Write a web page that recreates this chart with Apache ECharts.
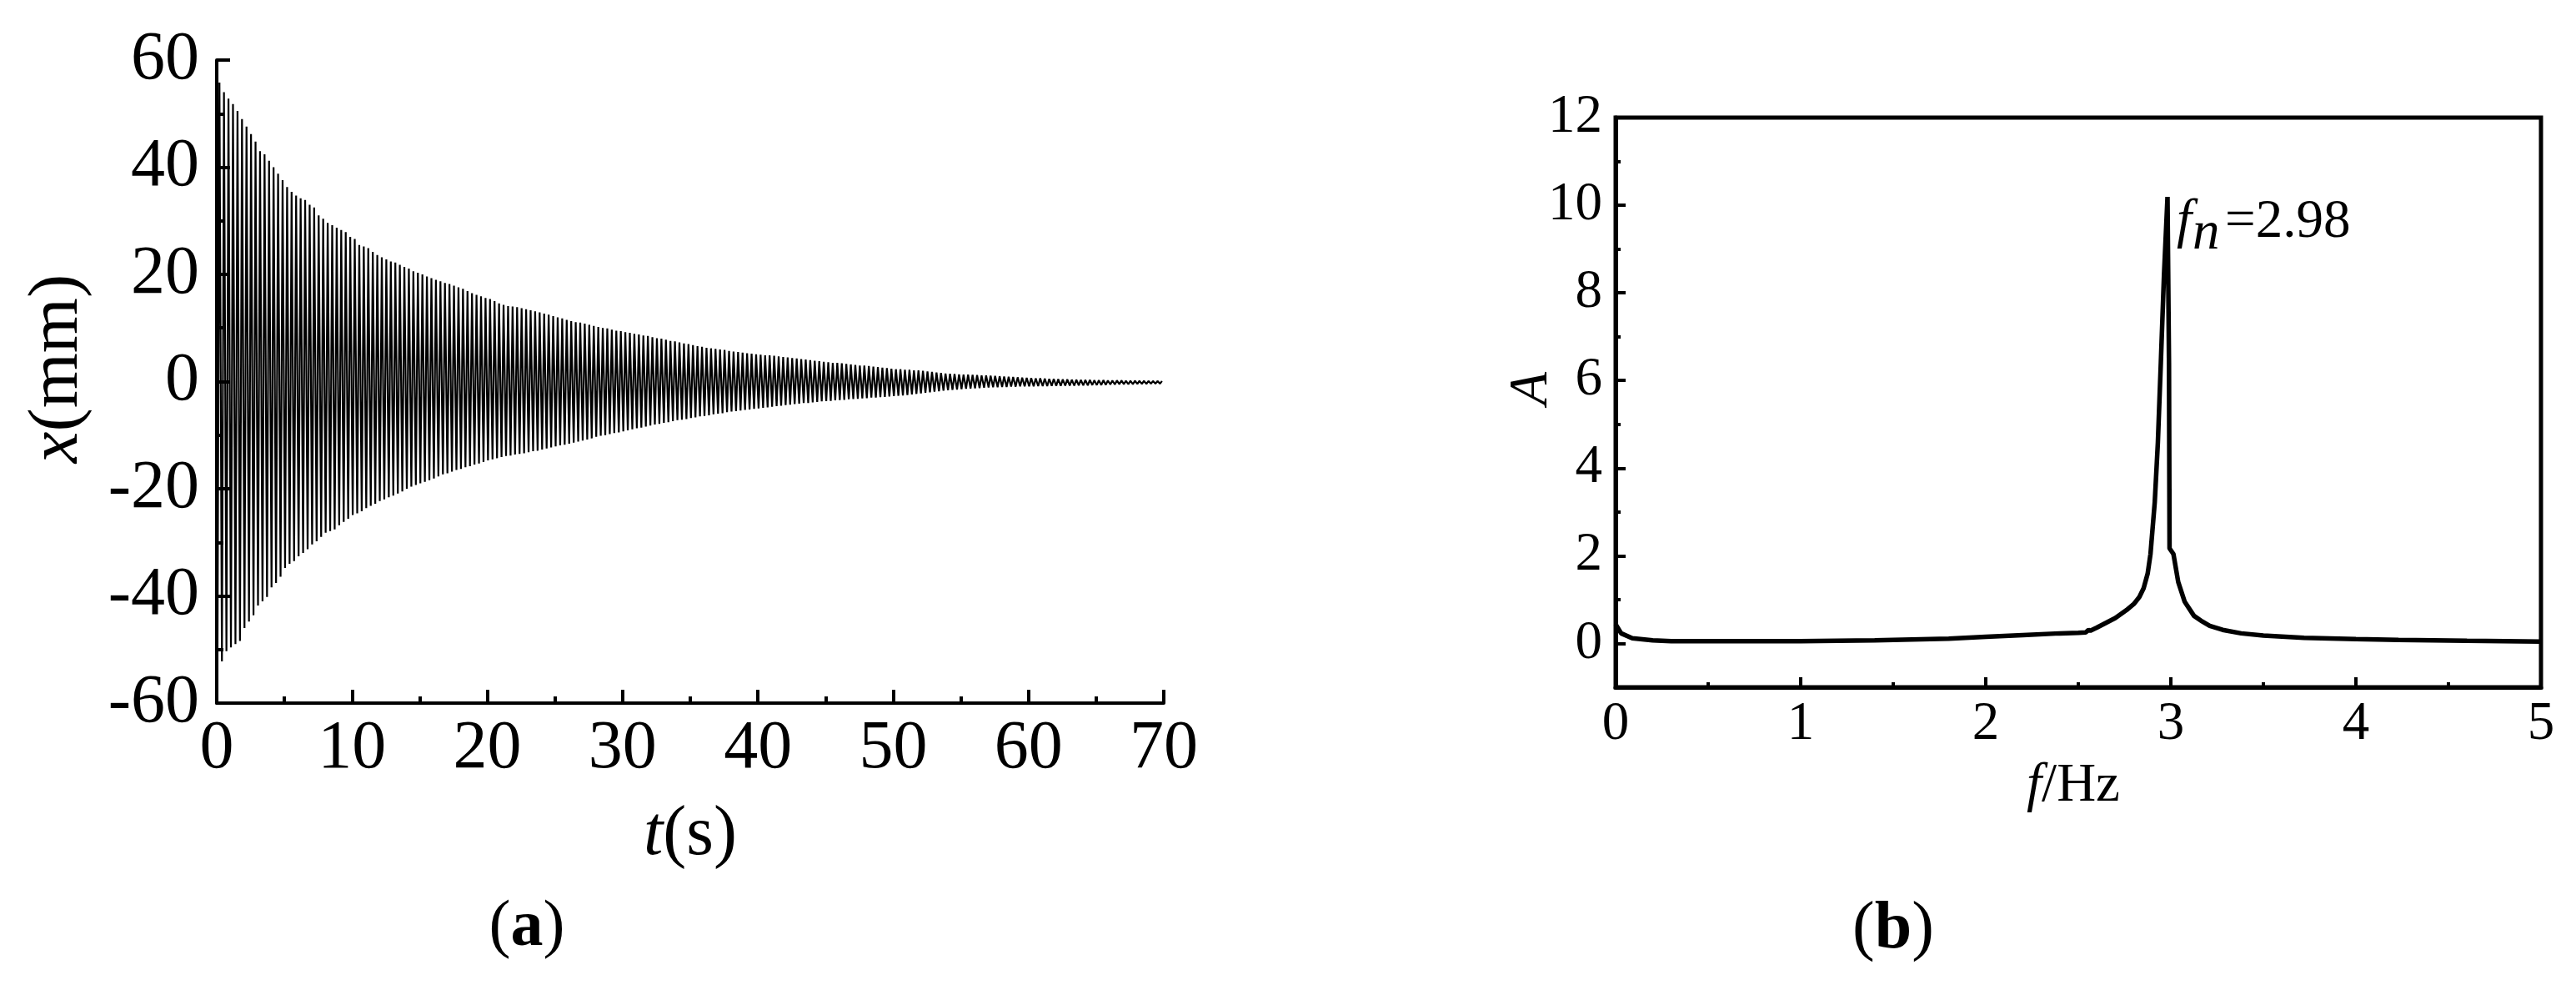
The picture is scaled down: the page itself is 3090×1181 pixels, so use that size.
<!DOCTYPE html>
<html>
<head>
<meta charset="utf-8">
<script src="https://cdn.jsdelivr.net/npm/echarts@6/dist/echarts.min.js"></script>
<style>
  html, body { margin: 0; padding: 0; background: #fff; }
  #chart { width: 3090px; height: 1181px; }
</style>
</head>
<body>
<div id="chart"></div>
<script>
const FONT = '"Liberation Serif", "Times New Roman", serif';

// (a) free decay: positive and negative peak of every cycle (mm)
const upperPeaks = [
  55.8, 54.0, 52.8, 51.8, 50.5, 49.0, 47.6, 46.2, 44.8, 43.0, 42.4, 41.2, 40.0, 38.8, 37.6,
  36.3, 35.4, 34.7, 34.2, 33.9, 33.0, 32.5, 31.0, 30.4, 29.6, 29.2, 28.7, 28.3, 27.9, 27.0,
  26.6, 25.5, 25.2, 24.9, 24.2, 23.6, 23.2, 22.8, 22.4, 22.2, 21.8, 21.4, 21.1, 20.6, 20.3,
  20.0, 19.6, 19.3, 19.0, 18.7, 18.4, 18.2, 17.9, 17.6, 17.3, 16.9, 16.5, 16.2, 15.9, 15.6,
  15.4, 15.0, 14.6, 14.3, 14.1, 14.0, 13.9, 13.7, 13.5, 13.3, 13.1, 12.9, 12.7, 12.5, 12.2,
  12.0, 11.8, 11.5, 11.3, 11.1, 11.0, 10.8, 10.6, 10.4, 10.2, 10.0, 9.9, 9.7, 9.5, 9.4,
  9.2, 9.1, 8.9, 8.8, 8.6, 8.5, 8.3, 8.1, 8.0, 7.8, 7.6, 7.5, 7.3, 7.1, 7.0,
  6.8, 6.6, 6.5, 6.3, 6.2, 6.1, 6.0, 5.9, 5.7, 5.6, 5.5, 5.4, 5.3, 5.2, 5.1,
  5.0, 4.9, 4.9, 4.8, 4.7, 4.6, 4.5, 4.4, 4.3, 4.2, 4.1, 4.0, 3.9, 3.8, 3.7,
  3.6, 3.5, 3.5, 3.4, 3.3, 3.2, 3.1, 3.0, 3.0, 2.9, 2.8, 2.7, 2.6, 2.5, 2.4,
  2.3, 2.3, 2.2, 2.2, 2.1, 2.1, 2.0, 1.9, 1.8, 1.7, 1.6, 1.5, 1.45, 1.4, 1.35,
  1.3, 1.3, 1.25, 1.2, 1.15, 1.15, 1.1, 1.05, 1.0, 0.95, 0.9, 0.85, 0.8, 0.75, 0.7,
  0.65, 0.6, 0.6, 0.55, 0.5, 0.5, 0.45, 0.4, 0.4, 0.35, 0.35, 0.3, 0.3, 0.3, 0.25,
  0.25, 0.25, 0.2, 0.2, 0.2, 0.2, 0.15, 0.15, 0.15, 0.12, 0.12, 0.1, 0.1, 0.1, 0.1
];
const lowerPeaks = [
  -54.0, -52.2, -50.3, -49.6, -49.0, -48.4, -46.0, -44.8, -43.6, -41.8, -41.0, -40.2, -38.4, -37.6, -36.4,
  -34.8, -34.0, -33.5, -32.6, -32.0, -31.3, -30.4, -29.8, -29.0, -28.2, -27.9, -27.6, -26.8, -26.2, -25.6,
  -24.9, -24.6, -24.2, -23.6, -23.2, -22.8, -22.3, -22.0, -21.6, -21.3, -20.9, -20.5, -20.0, -19.6, -19.3,
  -19.0, -18.7, -18.4, -18.1, -17.7, -17.3, -17.1, -16.8, -16.5, -16.3, -16.0, -15.8, -15.5, -15.3, -15.0,
  -14.7, -14.5, -14.3, -14.1, -13.9, -13.8, -13.6, -13.5, -13.4, -13.2, -13.0, -12.9, -12.7, -12.5, -12.3,
  -12.1, -11.9, -11.8, -11.6, -11.4, -11.2, -11.0, -10.8, -10.6, -10.3, -10.1, -10.0, -9.8, -9.6, -9.5,
  -9.3, -9.1, -8.9, -8.7, -8.6, -8.4, -8.2, -8.0, -7.9, -7.7, -7.6, -7.4, -7.2, -7.1, -7.0,
  -6.8, -6.7, -6.5, -6.4, -6.3, -6.1, -6.0, -5.9, -5.7, -5.6, -5.5, -5.4, -5.3, -5.2, -5.1,
  -5.0, -4.9, -4.8, -4.7, -4.6, -4.5, -4.4, -4.3, -4.2, -4.1, -4.0, -4.0, -3.9, -3.8, -3.7,
  -3.65, -3.6, -3.5, -3.45, -3.4, -3.3, -3.25, -3.2, -3.15, -3.1, -3.0, -3.0, -2.9, -2.85, -2.8,
  -2.7, -2.65, -2.6, -2.5, -2.4, -2.3, -2.2, -2.1, -2.0, -1.9, -1.8, -1.7, -1.6, -1.55, -1.5,
  -1.4, -1.35, -1.3, -1.25, -1.2, -1.15, -1.1, -1.05, -1.05, -1.0, -1.0, -0.95, -0.95, -0.9, -0.9,
  -0.9, -0.9, -0.85, -0.85, -0.85, -0.8, -0.8, -0.8, -0.75, -0.75, -0.75, -0.7, -0.7, -0.7, -0.65,
  -0.65, -0.65, -0.6, -0.55, -0.55, -0.5, -0.5, -0.5, -0.5, -0.45, -0.45, -0.45, -0.4, -0.4, -0.4
];
// about three cycles per second on the time axis
const cycleTime = 1 / 3;
const lowerAt = 0.05;
const upperAt = 0.2;

// (b) amplitude spectrum
const freqHz = [0, 0.03, 0.09, 0.2, 0.3, 0.5, 0.8, 1.0, 1.4, 1.8,
  2.0, 2.2, 2.4, 2.5, 2.54, 2.555, 2.565, 2.6, 2.7, 2.76,
  2.8, 2.83, 2.853, 2.875, 2.89, 2.913, 2.93, 2.946, 2.963, 2.982,
  2.99, 2.993, 3.014, 3.04, 3.075, 3.125, 3.17, 3.21, 3.28, 3.38,
  3.5, 3.72, 4.0, 4.23, 4.6, 5.0];
const amplitude = [0.44, 0.23, 0.12, 0.07, 0.05, 0.05, 0.05, 0.05, 0.07, 0.11,
  0.15, 0.19, 0.23, 0.24, 0.25, 0.31, 0.29, 0.36, 0.58, 0.76,
  0.90, 1.06, 1.26, 1.6, 2.04, 3.22, 4.59, 6.41, 8.41, 10.19,
  6.40, 2.17, 2.04, 1.40, 0.95, 0.63, 0.50, 0.40, 0.31, 0.23,
  0.18, 0.13, 0.10, 0.08, 0.06, 0.04];
const ampMajorTicks = [0, 2, 4, 6, 8, 10, 12];

const decayData = [];
upperPeaks.forEach((up, k) => {
  decayData.push([k * cycleTime + lowerAt, lowerPeaks[k]]);
  decayData.push([k * cycleTime + upperAt, up]);
});
const spectrumData = freqHz.map((f, i) => [f, amplitude[i]]);

const black = '#000';
const line = (w) => ({ lineStyle: { color: black, width: w } });

function txt(x, y, text, size, opts) {
  opts = opts || {};
  return {
    type: 'text', x: x, y: y, rotation: opts.rotation || 0, silent: true,
    style: {
      text: text, fill: black,
      fontFamily: FONT, fontSize: size,
      fontStyle: opts.italic ? 'italic' : 'normal',
      fontWeight: opts.bold ? 'bold' : 'normal',
      rich: opts.rich,
      align: opts.align || 'center', textAlign: opts.align || 'center',
      verticalAlign: 'middle', textVerticalAlign: 'middle'
    }
  };
}
const italic = (size) => ({ fontFamily: FONT, fontSize: size, fontStyle: 'italic', fill: black });
const roman = (size) => ({ fontFamily: FONT, fontSize: size, fill: black });
const boldR = (size) => ({ fontFamily: FONT, fontSize: size, fontWeight: 'bold', fill: black });

const chart = echarts.init(document.getElementById('chart'));

chart.setOption({
  backgroundColor: '#fff',
  animation: false,
  grid: [
    { left: 260, top: 72, width: 1136, height: 771 },
    { left: 1938, top: 141, width: 1110, height: 683, show: true, borderColor: black, borderWidth: 5 }
  ],
  xAxis: [
    {
      gridIndex: 0, type: 'value', min: 0, max: 70, interval: 10,
      axisLine: { onZero: false, ...line(4) },
      axisTick: { inside: true, length: 16, ...line(4) },
      minorTick: { show: true, splitNumber: 2, length: 8, ...line(4) },
      axisLabel: { color: black, fontFamily: FONT, fontSize: 82, margin: 14 },
      splitLine: { show: false }
    },
    {
      gridIndex: 1, type: 'value', min: 0, max: 5, interval: 1,
      axisLine: { onZero: false, ...line(5) },
      axisTick: { inside: true, length: 12, ...line(4) },
      minorTick: { show: true, splitNumber: 2, length: 6, ...line(4) },
      axisLabel: { color: black, fontFamily: FONT, fontSize: 65, margin: 12 },
      splitLine: { show: false }
    }
  ],
  yAxis: [
    {
      gridIndex: 0, type: 'value', min: -60, max: 60, interval: 20,
      axisLine: { onZero: false, ...line(4) },
      axisTick: { inside: true, length: 16, ...line(4) },
      minorTick: { show: true, splitNumber: 2, length: 8, ...line(4) },
      axisLabel: { color: black, fontFamily: FONT, fontSize: 82, margin: 21 },
      splitLine: { show: false }
    },
    {
      gridIndex: 1, type: 'value', min: -1, max: 12, interval: 1,
      axisLine: { onZero: false, ...line(5) },
      axisTick: { inside: true, length: 6, ...line(4) },
      axisLabel: {
        color: black, fontFamily: FONT, fontSize: 65, margin: 16,
        formatter: (v) => (ampMajorTicks.indexOf(v) >= 0 ? String(v) : '')
      },
      splitLine: { show: false }
    },
    {
      gridIndex: 1, type: 'value', min: -1, max: 12, position: 'left',
      axisLine: { show: false },
      axisTick: { inside: true, length: 12, customValues: ampMajorTicks, ...line(4) },
      axisLabel: { show: false },
      splitLine: { show: false }
    }
  ],
  series: [
    {
      type: 'line', xAxisIndex: 0, yAxisIndex: 0, data: decayData,
      symbol: 'none', silent: true, lineStyle: { color: black, width: 2.2 }
    },
    {
      type: 'line', xAxisIndex: 1, yAxisIndex: 1, data: spectrumData,
      symbol: 'none', silent: true, lineStyle: { color: black, width: 5.5 }
    }
  ],
  graphic: [
    txt(70, 442, '{i|x}{r|(mm)}', 85, { rotation: Math.PI / 2, rich: { i: italic(85), r: roman(85) } }),
    txt(828, 1002, '{i|t}{r|(s)}', 84, { rich: { i: italic(84), r: roman(84) } }),
    txt(632, 1113, '{r|(}{b|a}{r|)}', 78, { rich: { r: roman(78), b: boldR(78) } }),
    txt(1838, 466, 'A', 65, { rotation: Math.PI / 2, italic: true }),
    txt(2487, 943, '{i|f}{r|/Hz}', 65, { rich: { i: italic(65), r: roman(65) } }),
    txt(2271, 1115, '{r|(}{b|b}{r|)}', 80, { rich: { r: roman(80), b: boldR(80) } }),
    txt(2611, 267, 'f', 65, { italic: true, align: 'left' }),
    txt(2630, 281, 'n', 65, { italic: true, align: 'left' }),
    txt(2669, 267, '=2.98', 65, { align: 'left' })
  ]
});
</script>
</body>
</html>
